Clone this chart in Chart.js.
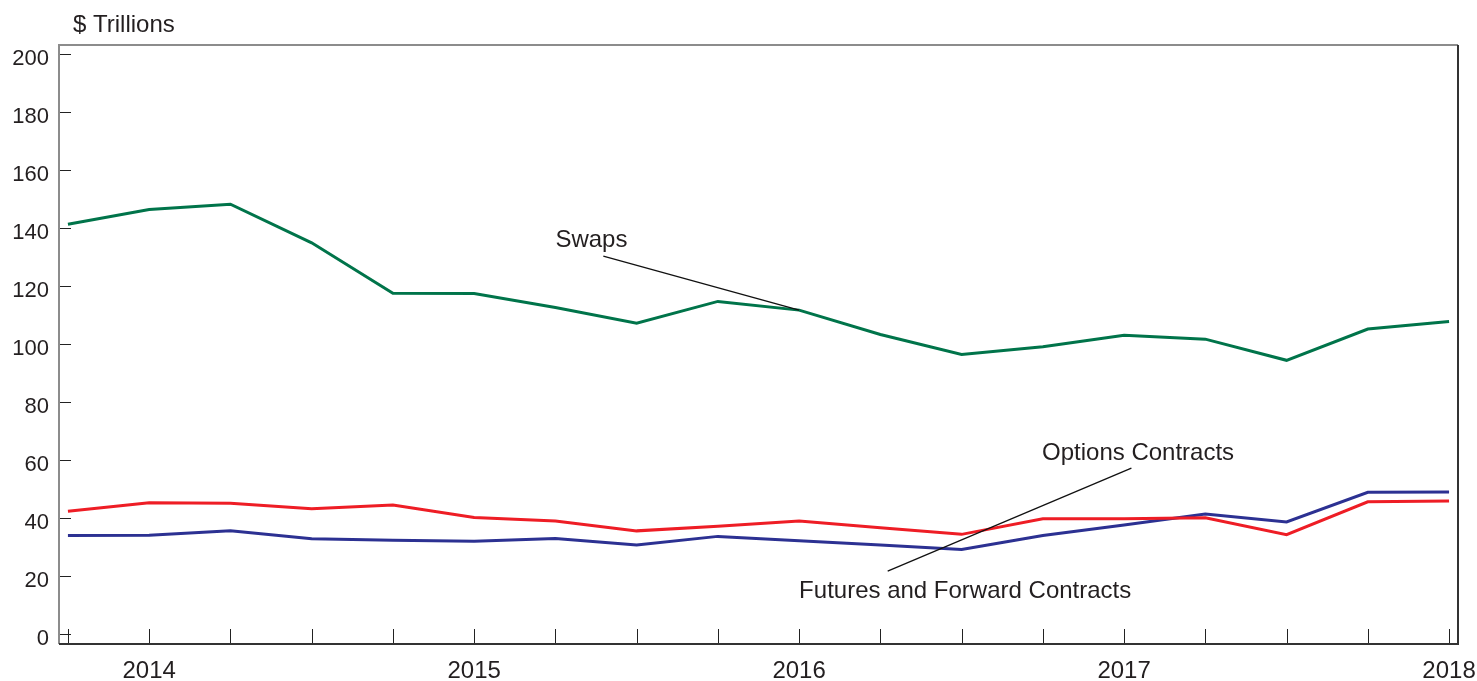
<!DOCTYPE html>
<html lang="en">
<head>
  <meta charset="UTF-8">
  <title>Derivatives notional amounts</title>
  <script src="https://cdn.jsdelivr.net/npm/chart.js"></script>
  <style>
    html, body { margin: 0; padding: 0; background: #fff; }
    #wrap { width: 1477px; height: 681px; }
  </style>
</head>
<body>
  <div id="wrap"><canvas id="chart"></canvas></div>

  <script>
    // quarterly points, 2013 Q4 .. 2018 Q1
    const quarters = ['2013Q4', '2014Q1', '2014Q2', '2014Q3', '2014Q4', '2015Q1', '2015Q2', '2015Q3', '2015Q4',
                      '2016Q1', '2016Q2', '2016Q3', '2016Q4', '2017Q1', '2017Q2', '2017Q3', '2017Q4', '2018Q1'];
    const yearLabels = { 1: '2014', 5: '2015', 9: '2016', 13: '2017', 17: '2018' };
    const yTicks = [0, 20, 40, 60, 80, 100, 120, 140, 160, 180, 200];

    const swaps = [141.3, 146.4, 148.2, 134.9, 117.5, 117.4, 112.6, 107.2, 114.7,
                   111.7, 103.3, 96.4, 99.1, 103.0, 101.7, 94.4, 105.2, 107.8];
    const options = [42.4, 45.3, 45.1, 43.2, 44.5, 40.2, 39.0, 35.6, 37.2,
                     39.0, 36.7, 34.4, 39.8, 39.8, 40.1, 34.3, 45.6, 45.9];
    const futures = [34.0, 34.1, 35.6, 32.9, 32.4, 32.0, 33.0, 30.7, 33.7,
                     32.2, 30.7, 29.2, 34.0, 37.6, 41.4, 38.7, 48.9, 49.0];

    const textColor = '#231f20';
    const font = '"Liberation Sans", Arial, sans-serif';

    const toPoints = arr => arr.map((v, i) => ({ x: i, y: v }));

    // text labels and leader lines (in data coordinates)
    const notes = [
      { text: 'Swaps', x: 6.0, y: 135.9 },
      { text: 'Options Contracts', x: 11.99, y: 62.4 },
      { text: 'Futures and Forward Contracts', x: 9.0, y: 14.8 }
    ];
    const leaders = [
      [6.59, 130.3, 9, 111.7],
      [10.09, 21.7, 13.09, 57.2]
    ];

    const framePlugin = {
      id: 'frame',
      afterDraw(chart) {
        const { ctx, chartArea: a, scales: { x, y } } = chart;
        ctx.save();
        // inward ticks
        ctx.strokeStyle = '#222';
        ctx.lineWidth = 1;
        yTicks.forEach(v => {
          const py = Math.round(y.getPixelForValue(v)) + 0.5;
          ctx.beginPath(); ctx.moveTo(a.left, py); ctx.lineTo(a.left + 12, py); ctx.stroke();
        });
        quarters.forEach((q, i) => {
          const px = Math.round(x.getPixelForValue(i)) + 0.5;
          ctx.beginPath(); ctx.moveTo(px, a.bottom); ctx.lineTo(px, a.bottom - 15); ctx.stroke();
        });
        // frame
        ctx.lineWidth = 2;
        ctx.strokeStyle = '#8c8c8c';
        ctx.beginPath(); ctx.moveTo(a.left, a.bottom); ctx.lineTo(a.left, a.top); ctx.lineTo(a.right, a.top); ctx.stroke();
        ctx.strokeStyle = '#333';
        ctx.beginPath(); ctx.moveTo(a.left, a.bottom); ctx.lineTo(a.right, a.bottom); ctx.lineTo(a.right, a.top); ctx.stroke();

        // leader lines
        ctx.strokeStyle = '#111';
        ctx.lineWidth = 1.3;
        leaders.forEach(l => {
          ctx.beginPath();
          ctx.moveTo(x.getPixelForValue(l[0]), y.getPixelForValue(l[1]));
          ctx.lineTo(x.getPixelForValue(l[2]), y.getPixelForValue(l[3]));
          ctx.stroke();
        });

        // notes
        ctx.fillStyle = textColor;
        ctx.font = '24px ' + font;
        ctx.textAlign = 'left';
        ctx.textBaseline = 'middle';
        notes.forEach(n => ctx.fillText(n.text, x.getPixelForValue(n.x), y.getPixelForValue(n.y)));

        // unit label
        ctx.font = '24px ' + font;
        ctx.fillText('$ Trillions', 73, 25);
        ctx.restore();
      }
    };

    const lineSet = (label, data, color) => ({
      label: label,
      data: toPoints(data),
      borderColor: color,
      borderWidth: 3,
      pointRadius: 0,
      tension: 0,
      fill: false
    });

    new Chart(document.getElementById('chart'), {
      type: 'line',
      data: {
        datasets: [
          lineSet('Swaps', swaps, '#00744a'),
          lineSet('Options Contracts', options, '#ee1d25'),
          lineSet('Futures and Forward Contracts', futures, '#2c3192')
        ]
      },
      options: {
        responsive: true,
        maintainAspectRatio: false,
        animation: false,
        layout: { padding: { top: 45, right: 19, left: 0, bottom: 0 } },
        plugins: { legend: { display: false }, tooltip: { enabled: false } },
        scales: {
          x: {
            type: 'linear',
            min: -0.11,
            max: 17.11,
            afterBuildTicks: s => { s.ticks = Object.keys(yearLabels).map(k => ({ value: +k })); },
            afterFit: s => { s.height = 37; s.paddingLeft = 0; s.paddingRight = 0; },
            ticks: {
              autoSkip: false,
              maxRotation: 0,
              padding: 13,
              color: textColor,
              font: { family: font, size: 24 },
              callback: v => yearLabels[v] || ''
            },
            grid: { display: true, drawOnChartArea: false, drawTicks: false, color: 'transparent' },
            border: { display: false }
          },
          y: {
            min: -3.4,
            max: 203.1,
            afterBuildTicks: s => { s.ticks = yTicks.map(v => ({ value: v })); },
            afterFit: s => { s.width = 59; s.paddingTop = 0; s.paddingBottom = 0; },
            ticks: {
              padding: 10,
              labelOffset: 5,
              color: textColor,
              font: { family: font, size: 22 }
            },
            grid: { display: true, drawOnChartArea: false, drawTicks: false, color: 'transparent' },
            border: { display: false }
          }
        }
      },
      plugins: [framePlugin]
    });
  </script>
</body>
</html>
